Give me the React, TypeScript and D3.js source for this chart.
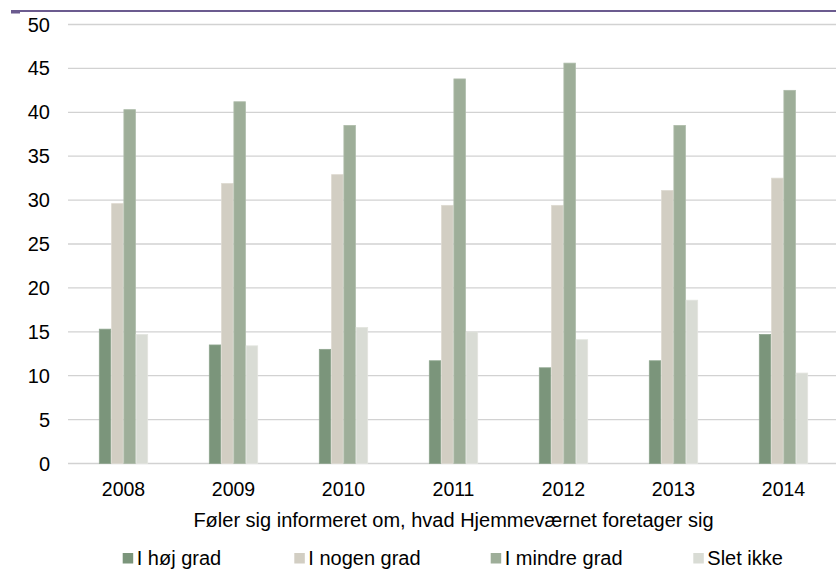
import React from "react";
import * as d3 from "d3";

const years = ["2008", "2009", "2010", "2011", "2012", "2013", "2014"];
const seriesNames = ["I høj grad", "I nogen grad", "I mindre grad", "Slet ikke"];
const hoejGrad = [15.3, 13.5, 13.0, 11.7, 10.9, 11.7, 14.7];
const nogenGrad = [29.6, 31.9, 32.9, 29.4, 29.4, 31.1, 32.5];
const mindreGrad = [40.3, 41.2, 38.5, 43.8, 45.6, 38.5, 42.5];
const sletIkke = [14.7, 13.4, 15.5, 15.0, 14.1, 18.6, 10.3];
const yTicks = [0, 5, 10, 15, 20, 25, 30, 35, 40, 45, 50];

const seriesValues = [hoejGrad, nogenGrad, mindreGrad, sletIkke];
const colors = ["#7b957b", "#d2cec3", "#9eae99", "#d9dcd5"];
const strokes = ["#8ea58e", "#dedad1", "#adbba9", "#e3e5df"];

const W = 836;
const H = 569;
const FONT = "'Liberation Sans', Arial, Helvetica, sans-serif";

export default function App() {
  const x0 = d3
    .scaleBand<string>()
    .domain(years)
    .range([68.5, 838.5])
    .paddingInner(0.553)
    .paddingOuter(0.2765);
  const x1 = d3
    .scaleBand<string>()
    .domain(seriesNames)
    .range([0, x0.bandwidth()])
    .padding(0);
  const y = d3.scaleLinear().domain([0, 50]).range([463.5, 24.5]);

  const plotCenter = (68.5 + 838.5) / 2;
  const legendX = [122.7, 294.3, 490.7, 693.3];

  return (
    <svg
      width={W}
      height={H}
      style={{ position: "absolute", left: 0, top: 0, background: "#fff" }}
      fontFamily={FONT}
    >
      <rect x={0} y={0} width={W} height={H} fill="#ffffff" />
      {/* top rule */}
      <line x1={11} x2={836} y1={11} y2={11} stroke="#6b5b8f" strokeWidth={2} />
      <rect x={11} y={10} width={9} height={3.5} fill="#6b5b8f" />

      {/* gridlines */}
      {yTicks.map((t) => (
        <line
          key={"g" + t}
          x1={68}
          x2={836}
          y1={y(t)}
          y2={y(t)}
          stroke="#d2d2d2"
          strokeWidth={1.3}
        />
      ))}

      {/* y labels */}
      {yTicks.map((t) => (
        <text
          key={"yl" + t}
          x={50}
          y={y(t) + 7}
          textAnchor="end"
          fontSize={20}
          fill="#000"
        >
          {t}
        </text>
      ))}

      {/* bars */}
      {years.map((yr, i) => (
        <g key={yr} transform={`translate(${x0(yr)},0)`}>
          {seriesNames.map((s, j) => {
            const v = seriesValues[j][i];
            return (
              <rect
                key={s}
                x={(x1(s) as number) + 0.4}
                y={y(v)}
                width={x1.bandwidth() - 0.8}
                height={y(0) - y(v)}
                fill={colors[j]}
                stroke={strokes[j]}
                strokeWidth={0.8}
              />
            );
          })}
        </g>
      ))}

      {/* x labels */}
      {years.map((yr) => (
        <text
          key={"xl" + yr}
          x={(x0(yr) as number) + x0.bandwidth() / 2}
          y={496}
          textAnchor="middle"
          fontSize={19.5}
          fill="#000"
        >
          {yr}
        </text>
      ))}

      {/* axis title */}
      <text x={plotCenter} y={527} textAnchor="middle" fontSize={20} fill="#000">
        Føler sig informeret om, hvad Hjemmeværnet foretager sig
      </text>

      {/* legend */}
      {seriesNames.map((s, j) => (
        <g key={"lg" + s} transform={`translate(${legendX[j]},0)`}>
          <rect x={0} y={553} width={10.5} height={10.5} fill={colors[j]} />
          <text x={14} y={565} fontSize={20} fill="#000">
            {s}
          </text>
        </g>
      ))}
    </svg>
  );
}
